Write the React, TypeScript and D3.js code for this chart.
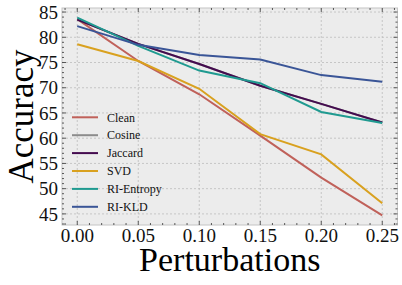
import React from "react";
import { scaleLinear, line, range } from "d3";

const perturbations = [0, 0.05, 0.1, 0.15, 0.2, 0.25];
const seriesNames = ["Clean", "Cosine", "Jaccard", "SVD", "RI-Entropy", "RI-KLD"];
const clean = [83.6, 75.3, 68.7, 60.5, 52.2, 44.7];
const cosine = [83.5, 78.7, 74.7, 70.4, 66.8, 63.1];
const jaccard = [83.5, 78.7, 74.7, 70.4, 66.8, 63.1];
const svd = [78.6, 75.3, 69.8, 60.8, 56.8, 47.1];
const riEntropy = [83.9, 78.3, 73.4, 70.9, 65.2, 63.0];
const riKld = [82.2, 78.5, 76.5, 75.6, 72.5, 71.2];
const xTicks = [0, 0.05, 0.1, 0.15, 0.2, 0.25];
const yTicks = [45, 50, 55, 60, 65, 70, 75, 80, 85];

const colors = ["#c0615a", "#8c8c8c", "#440b4f", "#d9a11f", "#1f9a90", "#3a5597"];

const W = 402;
const H = 285;
const left = 62;
const right = 397.5;
const top = 8;
const bottom = 225;

export default function App() {
  const values = [clean, cosine, jaccard, svd, riEntropy, riKld];
  const x = scaleLinear().domain([-0.0125, 0.2625]).range([left, right]);
  const y = scaleLinear().domain([42.8, 85.8]).range([bottom, top]);

  const path = line<number>()
    .x((d, i) => x(perturbations[i]))
    .y((d) => y(d));

  // minor ticks every 0.01 / every 1 unit, skipping the major ones
  const xMinor = range(-0.01, 0.2601, 0.01).filter(
    (v) => Math.abs(Math.round(v * 20) - v * 20) > 1e-6
  );
  const yMinor = range(43, 86, 1).filter((v) => v % 5 !== 0);
  const tickColor = "#333";

  return (
    <svg
      width={W}
      height={H}
      style={{ position: "absolute", left: 0, top: 0, background: "#fff" }}
      fontFamily="'Liberation Serif', 'Times New Roman', serif"
    >
      <rect x={left} y={top} width={right - left} height={bottom - top} fill="#ececec" />

      {/* grid */}
      <g stroke="#bdbdbd" strokeWidth={0.8} strokeDasharray="2,2">
        {xTicks.map((t) => (
          <line key={"gx" + t} x1={x(t)} x2={x(t)} y1={top} y2={bottom} />
        ))}
        {yTicks.map((t) => (
          <line key={"gy" + t} x1={left} x2={right} y1={y(t)} y2={y(t)} />
        ))}
      </g>

      {/* data lines */}
      <g fill="none" strokeWidth={2}>
        {values.map((v, i) => (
          <path key={seriesNames[i]} d={path(v) || ""} stroke={colors[i]} />
        ))}
      </g>

      {/* frame */}
      <rect
        x={left}
        y={top}
        width={right - left}
        height={bottom - top}
        fill="none"
        stroke="#c4c4c4"
        strokeWidth={1}
      />

      {/* ticks, inward on all sides */}
      <g stroke={tickColor} strokeWidth={0.8}>
        {xTicks.map((t) => (
          <g key={"tx" + t}>
            <line x1={x(t)} x2={x(t)} y1={bottom} y2={bottom - 4} />
            <line x1={x(t)} x2={x(t)} y1={top} y2={top + 4} />
          </g>
        ))}
        {xMinor.map((t) => (
          <g key={"mx" + t}>
            <line x1={x(t)} x2={x(t)} y1={bottom} y2={bottom - 2} />
            <line x1={x(t)} x2={x(t)} y1={top} y2={top + 2} />
          </g>
        ))}
        {yTicks.map((t) => (
          <g key={"ty" + t}>
            <line x1={left} x2={left + 4} y1={y(t)} y2={y(t)} />
            <line x1={right} x2={right - 4} y1={y(t)} y2={y(t)} />
          </g>
        ))}
        {yMinor.map((t) => (
          <g key={"my" + t}>
            <line x1={left} x2={left + 2} y1={y(t)} y2={y(t)} />
            <line x1={right} x2={right - 2} y1={y(t)} y2={y(t)} />
          </g>
        ))}
      </g>

      {/* tick labels */}
      <g fontSize={19} fill="#111">
        {xTicks.map((t) => (
          <text key={"lx" + t} x={x(t)} y={242} textAnchor="middle">
            {t.toFixed(2)}
          </text>
        ))}
        {yTicks.map((t) => (
          <text key={"ly" + t} x={58} y={y(t)} dy="0.35em" textAnchor="end">
            {t}
          </text>
        ))}
      </g>

      {/* axis titles */}
      <text x={(left + right) / 2} y={271} textAnchor="middle" fontSize={34} fill="#000">
        Perturbations
      </text>
      <text
        transform={`translate(33,${(top + bottom) / 2}) rotate(-90)`}
        textAnchor="middle"
        fontSize={35}
        fill="#000"
      >
        Accuracy
      </text>

      {/* legend */}
      <g fontSize={12} fill="#111">
        {seriesNames.map((name, i) => {
          const ly = 117.3 + i * 17.9;
          return (
            <g key={"lg" + name}>
              <line x1={72} x2={98} y1={ly} y2={ly} stroke={colors[i]} strokeWidth={2} />
              <text x={107} y={ly} dy="0.35em">
                {name}
              </text>
            </g>
          );
        })}
      </g>
    </svg>
  );
}
